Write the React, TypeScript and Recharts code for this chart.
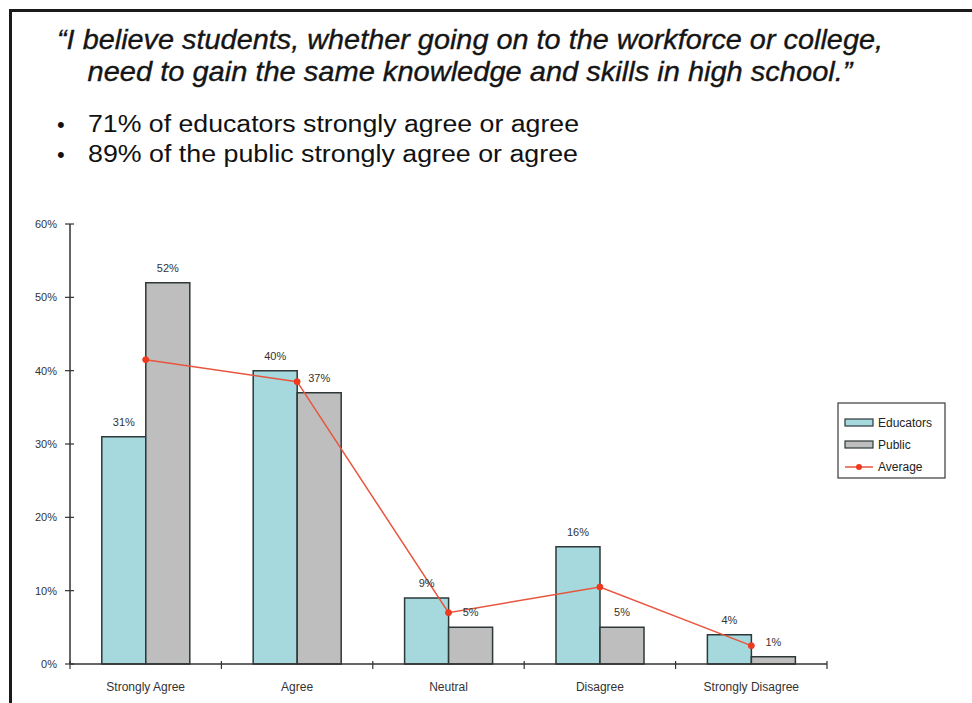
import React from 'react';
import { ComposedChart, Bar, Line, XAxis, YAxis, LabelList } from 'recharts';

const categories = ['Strongly Agree', 'Agree', 'Neutral', 'Disagree', 'Strongly Disagree'];
const educators = [31, 40, 9, 16, 4];
const publicVals = [52, 37, 5, 5, 1];
const average = [41.5, 38.5, 7, 10.5, 2.5];
const yTicks = [0, 10, 20, 30, 40, 50, 60];
const seriesNames = ['Educators', 'Public', 'Average'];
const titleLines = [
  '\u201CI believe students, whether going on to the workforce or college,',
  'need to gain the same knowledge and skills in high school.\u201D',
];
const bulletLines = [
  '71% of educators strongly agree or agree',
  '89% of the public strongly agree or agree',
];

const data = categories.map((c, i) => ({
  category: c,
  educators: educators[i],
  public: publicVals[i],
  average: average[i],
}));

const FONT = '"Liberation Sans", Arial, sans-serif';
const EDU = '#A6D9DE';
const PUB = '#BEBEBE';
const STROKE = '#2E3838';
const LINE = '#E8553E';
const DOT = '#F03A1E';

const XTick = (props: any) => {
  const { x, y, payload } = props;
  const off = payload && typeof payload.offset === 'number' ? payload.offset : 0;
  const idx = categories.indexOf(payload.value);
  return (
    <g>
      <line x1={x - off} x2={x - off} y1={y - 3} y2={y + 5} stroke="#333" strokeWidth={1.2} />
      {idx === categories.length - 1 && (
        <line x1={x + off} x2={x + off} y1={y - 3} y2={y + 5} stroke="#333" strokeWidth={1.2} />
      )}
      <text x={x} y={y + 27} textAnchor="middle" fontSize={12} fill="#333" fontFamily={FONT}>
        {payload.value}
      </text>
    </g>
  );
};

const YTick = (props: any) => {
  const { x, y, payload } = props;
  return (
    <g>
      <line x1={x - 5} x2={x + 4} y1={y} y2={y} stroke="#333" strokeWidth={1.2} />
      <text x={x - 13} y={y} dy="0.35em" textAnchor="end" fontSize={11} fill="#333" fontFamily={FONT}>
        {payload.value}%
      </text>
    </g>
  );
};

const pct = (v: any) => `${v}%`;

export default function App() {
  return (
    <div style={{ position: 'absolute', left: 0, top: 0, width: 972, height: 703, background: '#fff', fontFamily: FONT, overflow: 'hidden' }}>
      <div style={{ position: 'absolute', left: 9, top: 9, width: 980, height: 710, borderTop: '3px solid #1a1a1a', borderLeft: '3px solid #1a1a1a' }} />
      <svg width={972} height={200} style={{ position: 'absolute', left: 0, top: 0 }}>
        <text x={470} y={48.5} textAnchor="middle" fontSize={28} fontStyle="italic" fill="#151515" fontFamily={FONT}
          stroke="#151515" strokeWidth={0.35}
          textLength={826} lengthAdjust="spacingAndGlyphs">{titleLines[0]}</text>
        <text x={470} y={80.5} textAnchor="middle" fontSize={28} fontStyle="italic" fill="#151515" fontFamily={FONT}
          stroke="#151515" strokeWidth={0.35}
          textLength={765} lengthAdjust="spacingAndGlyphs">{titleLines[1]}</text>
        <text x={57} y={131.5} fontSize={22} fill="#111" fontFamily={FONT}>{'\u2022'}</text>
        <text x={88} y={131.5} fontSize={23.5} fill="#111" fontFamily={FONT} textLength={491} lengthAdjust="spacingAndGlyphs">{bulletLines[0]}</text>
        <text x={57} y={161.5} fontSize={22} fill="#111" fontFamily={FONT}>{'\u2022'}</text>
        <text x={88} y={161.5} fontSize={23.5} fill="#111" fontFamily={FONT} textLength={490} lengthAdjust="spacingAndGlyphs">{bulletLines[1]}</text>
      </svg>
      <div style={{ position: 'absolute', left: 0, top: 0 }}>
        <ComposedChart
          width={972}
          height={703}
          data={data}
          margin={{ top: 224, right: 145, bottom: 9, left: 10 }}
          barCategoryGap="21%"
          barGap={0}
          style={{ fontFamily: FONT }}
        >
          <XAxis
            dataKey="category"
            height={30}
            interval={0}
            tickSize={0}
            tickMargin={0}
            tickLine={false}
            axisLine={{ stroke: '#333', strokeWidth: 1.5 }}
            tick={<XTick />}
          />
          <YAxis
            width={60}
            domain={[0, 60]}
            ticks={yTicks}
            interval={0}
            tickSize={0}
            tickMargin={0}
            tickLine={false}
            axisLine={{ stroke: '#333', strokeWidth: 1.5 }}
            tick={<YTick />}
          />
          <Bar dataKey="educators" name={seriesNames[0]} fill={EDU} stroke={STROKE} strokeWidth={1.5} isAnimationActive={false}>
            <LabelList dataKey="educators" position="top" offset={11} formatter={pct} fontSize={11} fill="#333" fontFamily={FONT} />
          </Bar>
          <Bar dataKey="public" name={seriesNames[1]} fill={PUB} stroke={STROKE} strokeWidth={1.5} isAnimationActive={false}>
            <LabelList dataKey="public" position="top" offset={11} formatter={pct} fontSize={11} fill="#333" fontFamily={FONT} />
          </Bar>
          <Line
            type="linear"
            dataKey="average"
            name={seriesNames[2]}
            stroke={LINE}
            strokeWidth={1.5}
            dot={{ r: 3, fill: DOT, stroke: DOT, strokeWidth: 1 }}
            activeDot={false}
            isAnimationActive={false}
          />
        </ComposedChart>
      </div>
      <svg width={110} height={78} style={{ position: 'absolute', left: 837, top: 402 }}>
        <rect x={1} y={1} width={107} height={75} fill="#fff" stroke="#3a3a3a" strokeWidth={1.2} />
        <rect x={8} y={17} width={28} height={7} fill={EDU} stroke={STROKE} strokeWidth={1.2} />
        <text x={41} y={25} fontSize={12} fill="#222" fontFamily={FONT}>{seriesNames[0]}</text>
        <rect x={8} y={39} width={28} height={7} fill={PUB} stroke={STROKE} strokeWidth={1.2} />
        <text x={41} y={47} fontSize={12} fill="#222" fontFamily={FONT}>{seriesNames[1]}</text>
        <line x1={8} x2={36} y1={65} y2={65} stroke={LINE} strokeWidth={1.5} />
        <circle cx={22} cy={65} r={3} fill={DOT} />
        <text x={41} y={69} fontSize={12} fill="#222" fontFamily={FONT}>{seriesNames[2]}</text>
      </svg>
    </div>
  );
}
